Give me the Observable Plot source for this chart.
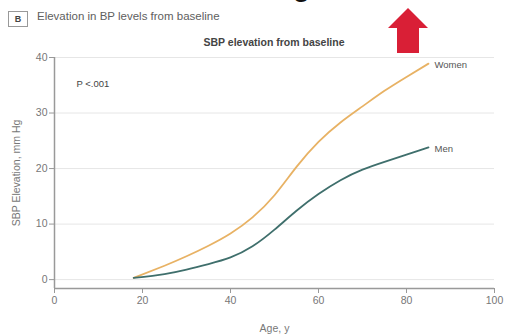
<!DOCTYPE html>
<html>
<head>
<meta charset="utf-8">
<script src="https://cdn.jsdelivr.net/npm/d3@7"></script>
<script src="https://cdn.jsdelivr.net/npm/@observablehq/plot@0.6"></script>
<style>
  html, body { margin: 0; padding: 0; background: #fff; }
  body { width: 506px; height: 336px; overflow: hidden; font-family: "Liberation Sans", Arial, sans-serif; }
  #wrap { position: relative; width: 506px; height: 336px; }
  #head { position: relative; height: 50px; }
  #cut { position: absolute; left: 293px; top: -27px; font: bold 28px "Liberation Sans", Arial, sans-serif; color: #111; line-height: 28px; }
  #panel { position: absolute; left: 8px; top: 11px; width: 18px; height: 14px; border: 1px solid #999; font: bold 9px "Liberation Sans", Arial, sans-serif; color: #444; text-align: center; line-height: 14px; }
  #title { position: absolute; left: 37px; top: 10px; font-size: 11.5px; color: #606060; white-space: nowrap; }
  #subtitle { position: absolute; left: 0; width: 548px; top: 36px; text-align: center; font-size: 10.5px; font-weight: bold; color: #444; white-space: nowrap; }
  #arrow { position: absolute; left: 386px; top: 6px; }
  #chart svg { display: block; }
</style>
</head>
<body>
<div id="wrap">
  <div id="head">
    <div id="cut">g</div>
    <div id="panel">B</div>
    <div id="title">Elevation in BP levels from baseline</div>
    <div id="subtitle">SBP elevation from baseline</div>
  </div>
  <div id="chart"></div>
  <svg id="arrow" width="44" height="50" viewBox="0 0 44 50">
    <polygon points="22,2 42,22 33,22 33,47 11,47 11,22 2,22" fill="#d91f36"/>
  </svg>
</div>
<script>
// Mean SBP elevation from baseline by age, mm Hg
const ages = [18, 25, 30, 35, 40, 45, 50, 55, 60, 65, 70, 75, 80, 85];
const women = [0.3, 2.5, 4.2, 6.1, 8.3, 11.2, 15.2, 20.3, 24.8, 28.3, 31.2, 34.0, 36.5, 38.9];
const men = [0.3, 1.0, 1.8, 2.8, 4.0, 6.0, 9.0, 12.4, 15.4, 17.9, 19.8, 21.2, 22.5, 23.8];

const seriesNames = ["Women", "Men"];
const seriesValues = [women, men];
const seriesColors = ["#e8b264", "#3f6f6c"];

const xTicks = [0, 20, 40, 60, 80, 100];
const yTicks = [0, 10, 20, 30, 40];
const pLabel = "P <.001";

const rows = seriesNames.flatMap((name, i) =>
  ages.map((age, j) => ({ series: name, age, value: seriesValues[i][j] }))
);
const ends = seriesNames.map((name, i) => ({
  series: name, age: ages[ages.length - 1], value: seriesValues[i][ages.length - 1]
}));

const yFloor = -1.6;
const gray = "#777";

const chart = Plot.plot({
  width: 506,
  height: 286,
  marginTop: 7,
  marginBottom: 48,
  marginLeft: 54,
  marginRight: 12,
  style: { fontFamily: "'Liberation Sans', Arial, sans-serif", fontSize: "10px", color: gray, background: "#fff" },
  x: { domain: [0, 100], ticks: xTicks, label: null },
  y: { domain: [yFloor, 40], ticks: yTicks, label: null },
  color: { domain: seriesNames, range: seriesColors },
  marks: [
    Plot.ruleY(yTicks, { stroke: "#e6e6e6", strokeWidth: 1 }),
    Plot.ruleY([yFloor], { stroke: "#999", strokeWidth: 1.5 }),
    Plot.ruleX([0], { y1: yFloor, y2: 40, stroke: "#999", strokeWidth: 1.5 }),
    Plot.axisX({ ticks: xTicks, tickSize: 5, tickPadding: 3, stroke: "#999", fill: gray, fontSize: 10.5, label: "Age, y", labelAnchor: "center", labelArrow: "none", labelOffset: 43 }),
    Plot.axisY({ ticks: yTicks, tickSize: 5, tickPadding: 2, stroke: "#999", fill: gray, fontSize: 10.5, label: "SBP Elevation, mm Hg", labelAnchor: "center", labelArrow: "none", labelOffset: 42 }),
    Plot.line(rows, { x: "age", y: "value", z: "series", stroke: "series", strokeWidth: 1.8, curve: "natural" }),
    Plot.text(ends, { x: "age", y: "value", text: "series", dx: 6, dy: 1, textAnchor: "start", fill: "#555", fontSize: 9.5 }),
    Plot.text([pLabel], { x: 5, y: 35.2, text: d => d, textAnchor: "start", fill: "#444", fontSize: 9.5 })
  ]
});
document.getElementById("chart").append(chart);
</script>
</body>
</html>
